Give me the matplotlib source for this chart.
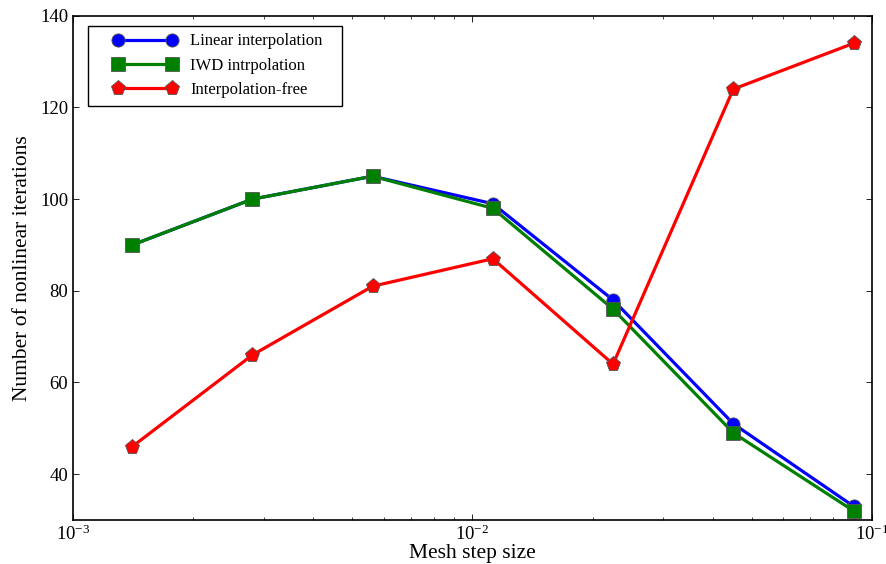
import matplotlib
matplotlib.use("Agg")
import matplotlib.pyplot as plt
from matplotlib.ticker import LogLocator
from matplotlib.legend_handler import HandlerLine2D
from matplotlib.lines import Line2D

mesh_step = [0.00140625, 0.0028125, 0.005625, 0.01125, 0.0225, 0.045, 0.09]
linear_interp = [90, 100, 105, 99, 78, 51, 33]
iwd_interp = [90, 100, 105, 98, 76, 49, 32]
interp_free = [46, 66, 81, 87, 64, 124, 134]
series_labels = ["Linear interpolation", "IWD intrpolation", "Interpolation-free"]

plt.rcParams['font.family'] = ['Liberation Serif', 'DejaVu Serif']
plt.rcParams['mathtext.fontset'] = 'stix'

fig = plt.figure(figsize=(8.86, 5.64), dpi=100)
ax = fig.add_axes([0.0824, 0.078, 0.9016, 0.894])

common = dict(linewidth=2.3, markeredgecolor='#555555', markeredgewidth=0.6)
ax.plot(mesh_step, linear_interp, color='blue', marker='o', markersize=9.5,
        label=series_labels[0], **common)
ax.plot(mesh_step, iwd_interp, color='green', marker='s', markersize=9.5,
        label=series_labels[1], **common)
ax.plot(mesh_step, interp_free, color='red', marker='p', markersize=11,
        label=series_labels[2], **common)

ax.set_xscale('log')
ax.set_xlim(1e-3, 1e-1)
ax.set_ylim(30, 140)
ax.set_yticks([40, 60, 80, 100, 120, 140])
ax.xaxis.set_minor_locator(LogLocator(base=10, subs=range(2, 10)))

ax.tick_params(which='both', direction='in', top=True, right=True, labelsize=13.5)
ax.tick_params(which='major', length=4, width=0.6)
ax.tick_params(which='minor', length=2.5, width=0.5)
for s in ax.spines.values():
    s.set_linewidth(1.2)

ax.set_xlabel("Mesh step size", fontsize=15.5, labelpad=0)
ax.set_ylabel("Number of nonlinear iterations", fontsize=15.5, labelpad=6)

leg = ax.legend(loc='upper left', bbox_to_anchor=(0.0188, 0.5, 0.318, 0.480),
                mode='expand', borderaxespad=0,
                fontsize=12, fancybox=False, framealpha=1, edgecolor='black',
                handlelength=4.9, numpoints=2, borderpad=0.45, labelspacing=0.5,
                handletextpad=0.78,
                handler_map={Line2D: HandlerLine2D(numpoints=2, xpad=1.05)})
leg.get_frame().set_linewidth(1.0)

fig.savefig("out.png", dpi=100)
